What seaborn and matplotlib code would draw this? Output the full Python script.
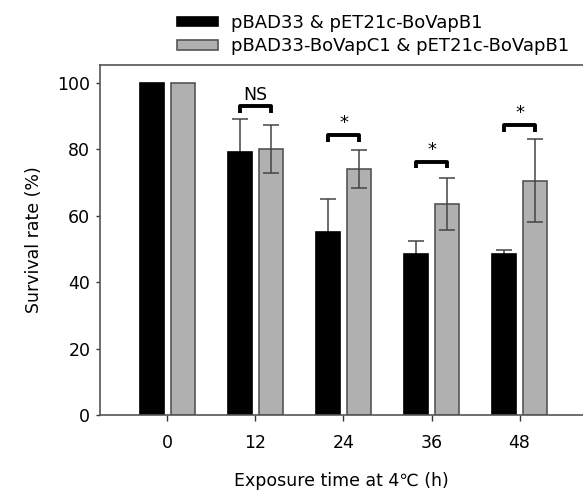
import seaborn as sns
import matplotlib.pyplot as plt
import numpy as np
import pandas as pd

# Data
times = ['0', '12', '24', '36', '48']
groups = ['pBAD33 & pET21c-BoVapB1', 'pBAD33-BoVapC1 & pET21c-BoVapB1']
control = [100, 79, 55, 48.5, 48.3]
control_err = [0, 10, 10, 3.8, 1.3]
vapc1 = [100, 80, 74, 63.5, 70.5]
vapc1_err = [0, 7.3, 5.7, 7.7, 12.5]
sig_labels = ['', 'NS', '*', '*', '*']
bracket_y = [None, 92.9, 84.2, 76.2, 87.2]

df = pd.DataFrame({
    'Time': times * 2,
    'Group': [groups[0]] * len(times) + [groups[1]] * len(times),
    'Survival': control + vapc1,
})

sns.set_style('ticks')
plt.rcParams['font.family'] = ['DejaVu Sans']
plt.rcParams['text.color'] = 'black'
plt.rcParams['axes.labelcolor'] = 'black'

fig = plt.figure(figsize=(5.83, 4.95), dpi=100)
ax = fig.add_axes([0.1715, 0.1616, 0.8285, 0.7071])

palette = {groups[0]: 'black', groups[1]: '#b0b0b0'}
edges = ['black', '#555555']
sns.barplot(data=df, x='Time', y='Survival', hue='Group', order=times,
            hue_order=groups, palette=palette, width=0.7, gap=0.23,
            errorbar=None, saturation=1, ax=ax, legend=True)

for cont, ec in zip(ax.containers, edges):
    for bar in cont:
        bar.set_edgecolor(ec)
        bar.set_linewidth(1.2)

# error bars positioned on the drawn bars
centers = []
for cont, vals, errs, z in zip(ax.containers, [control, vapc1],
                               [control_err, vapc1_err], [0.5, 3]):
    xs = [b.get_x() + b.get_width() / 2 for b in cont]
    centers.append(xs)
    xs_e = [x for x, e in zip(xs, errs) if e > 0]
    v_e = [v for v, e in zip(vals, errs) if e > 0]
    e_e = [e for e in errs if e > 0]
    ax.errorbar(xs_e, v_e, yerr=e_e, fmt='none', ecolor='#444444',
                elinewidth=1.1, capsize=6, capthick=1.1, zorder=z)

# significance brackets
for i, (lab, yb) in enumerate(zip(sig_labels, bracket_y)):
    if yb is None:
        continue
    x1, x2 = centers[0][i], centers[1][i]
    ax.plot([x1, x1, x2, x2], [yb - 2, yb, yb, yb - 2], color='black',
            lw=2.8, solid_capstyle='butt', solid_joinstyle='round', zorder=4)
    ax.text((x1 + x2) / 2, yb + 0.8, lab, ha='center', va='bottom',
            fontsize=12.5 if lab == 'NS' else 13, zorder=4)

ax.set_xlim(-0.765, 4.72)
ax.set_ylim(0, 105.3)
ax.set_yticks([0, 20, 40, 60, 80, 100])
ax.set_xlabel('Exposure time at 4℃ (h)', fontsize=12.5, labelpad=14)
ax.set_ylabel('Survival rate (%)', fontsize=12.5, labelpad=10)
ax.tick_params(axis='both', labelsize=12.5, direction='out', length=4,
               width=1, colors='#333333', labelcolor='black')
ax.tick_params(axis='x', pad=10)
ax.tick_params(axis='y', length=3, pad=4)

for side in ['left', 'bottom', 'top']:
    ax.spines[side].set_color('#555555')
    ax.spines[side].set_linewidth(1.2)
ax.spines['right'].set_visible(False)

handles, labels = ax.get_legend_handles_labels()
ax.get_legend().remove()
for h, ec in zip(handles, edges):
    h.set_edgecolor(ec)
    h.set_linewidth(1.2)
fig.legend(handles, labels, loc='upper left', bbox_to_anchor=(0.288, 0.99),
           frameon=False, fontsize=13, handlelength=2.27, handleheight=0.45,
           labelspacing=0.3, handletextpad=0.7, borderaxespad=0.1)

fig.savefig('out.png', dpi=100)
